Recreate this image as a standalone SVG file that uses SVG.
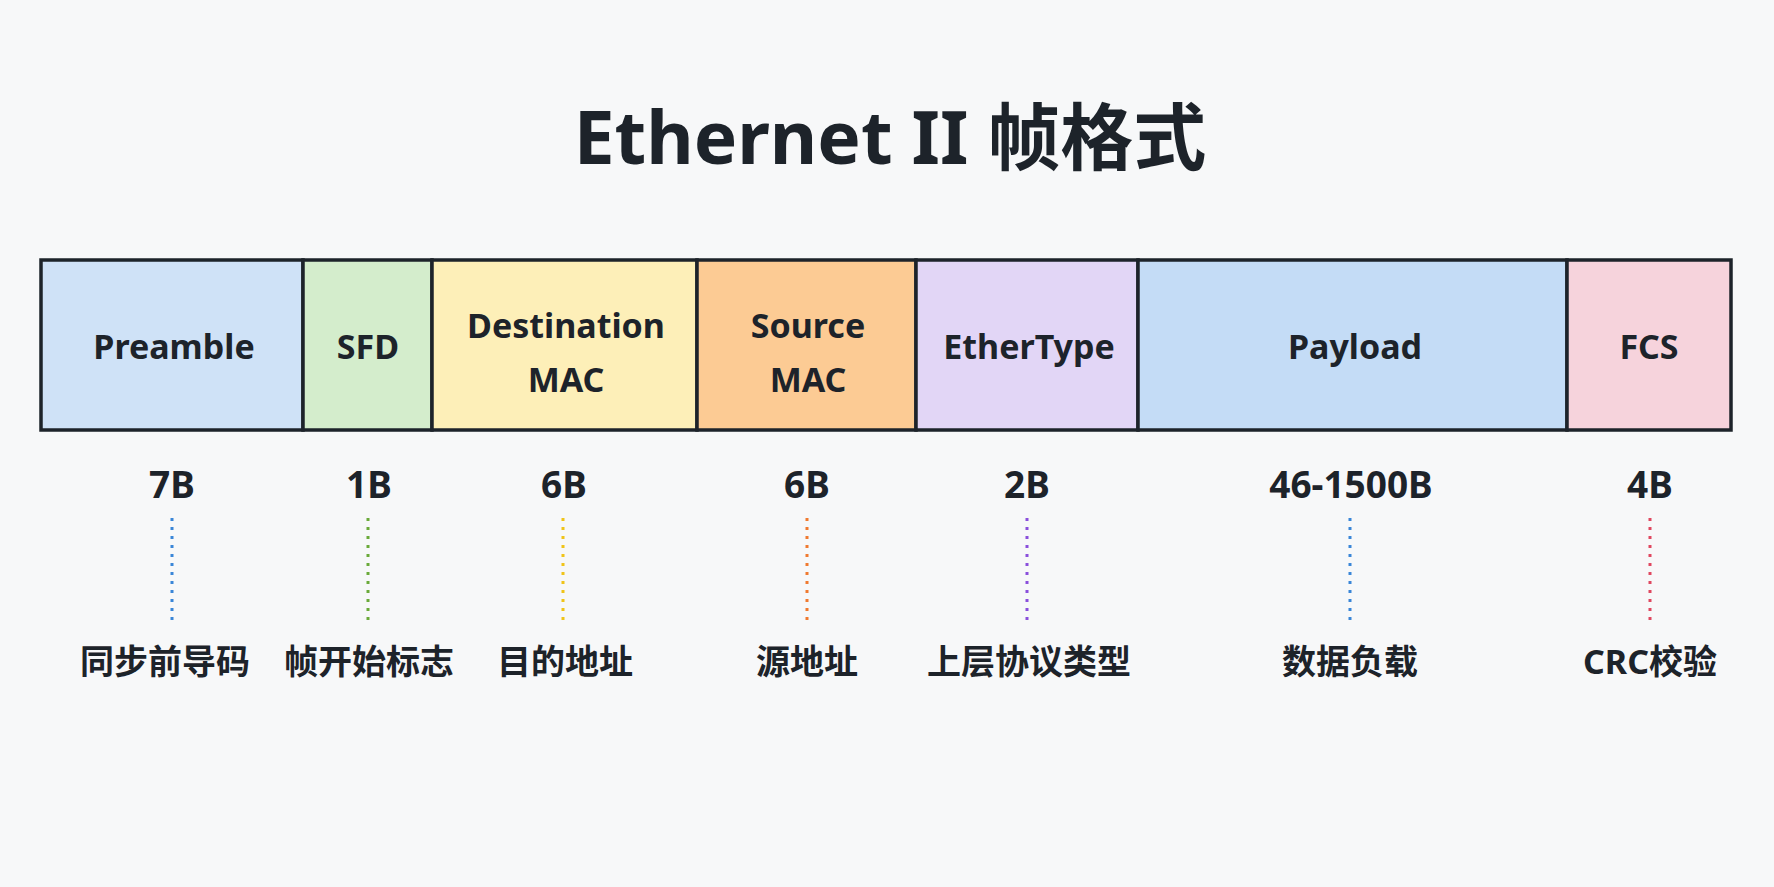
<svg xmlns="http://www.w3.org/2000/svg" width="1774" height="887" viewBox="0 0 1774 887">
<style>
text{font-family:"Noto Sans","Noto Sans CJK SC",sans-serif;font-weight:bold;fill:#1d232a;text-anchor:middle}
.f{font-size:34px}.b{font-size:37px}.c{font-size:34px}
.cell{stroke:#1d232a;stroke-width:3.5}
.d{stroke-width:3;stroke-dasharray:3 6;fill:none}
</style>
<rect width="1774" height="887" fill="#f7f8f9"/>
<text x="890" y="164" style="font-size:73px">Ethernet II 帧格式</text>
<g id="preamble"><rect class="cell" x="41" y="260" width="262" height="170" fill="#cfe2f7"/><text class="f" x="174" y="359">Preamble</text></g>
<g id="sfd"><rect class="cell" x="303" y="260" width="129" height="170" fill="#d4edcc"/><text class="f" x="368" y="359">SFD</text></g>
<g id="dst"><rect class="cell" x="432" y="260" width="265" height="170" fill="#fdefb8"/><text class="f" x="566" y="338">Destination</text><text class="f" x="566" y="392">MAC</text></g>
<g id="src"><rect class="cell" x="697" y="260" width="219" height="170" fill="#fccb94"/><text class="f" x="808" y="338">Source</text><text class="f" x="808" y="392">MAC</text></g>
<g id="ethertype"><rect class="cell" x="916" y="260" width="222" height="170" fill="#e2d6f6"/><text class="f" x="1029" y="359">EtherType</text></g>
<g id="payload"><rect class="cell" x="1138" y="260" width="429" height="170" fill="#c4dcf6"/><text class="f" x="1355" y="359">Payload</text></g>
<g id="fcs"><rect class="cell" x="1567" y="260" width="164" height="170" fill="#f6d3dc"/><text class="f" x="1649" y="359">FCS</text></g>
<g id="sizes">
<text class="b" x="172" y="498">7B</text><text class="b" x="369" y="498">1B</text><text class="b" x="564" y="498">6B</text><text class="b" x="807" y="498">6B</text><text class="b" x="1027" y="498">2B</text><text class="b" x="1351" y="498">46-1500B</text><text class="b" x="1650" y="498">4B</text>
</g>
<g id="connectors">
<line class="d" x1="172" y1="518" x2="172" y2="620" stroke="#3a86d8"/>
<line class="d" x1="368" y1="518" x2="368" y2="620" stroke="#6aaa3a"/>
<line class="d" x1="563" y1="518" x2="563" y2="620" stroke="#f0c419"/>
<line class="d" x1="807" y1="518" x2="807" y2="620" stroke="#f07a30"/>
<line class="d" x1="1027" y1="518" x2="1027" y2="620" stroke="#8a4fdc"/>
<line class="d" x1="1350" y1="518" x2="1350" y2="620" stroke="#3a86d8"/>
<line class="d" x1="1650" y1="518" x2="1650" y2="620" stroke="#e04860"/>
</g>
<g id="desc">
<text class="c" x="165" y="674">同步前导码</text><text class="c" x="369" y="674">帧开始标志</text><text class="c" x="565" y="674">目的地址</text><text class="c" x="807" y="674">源地址</text><text class="c" x="1029" y="674">上层协议类型</text><text class="c" x="1350" y="674">数据负载</text><text class="c" x="1650" y="674">CRC校验</text>
</g>
</svg>
